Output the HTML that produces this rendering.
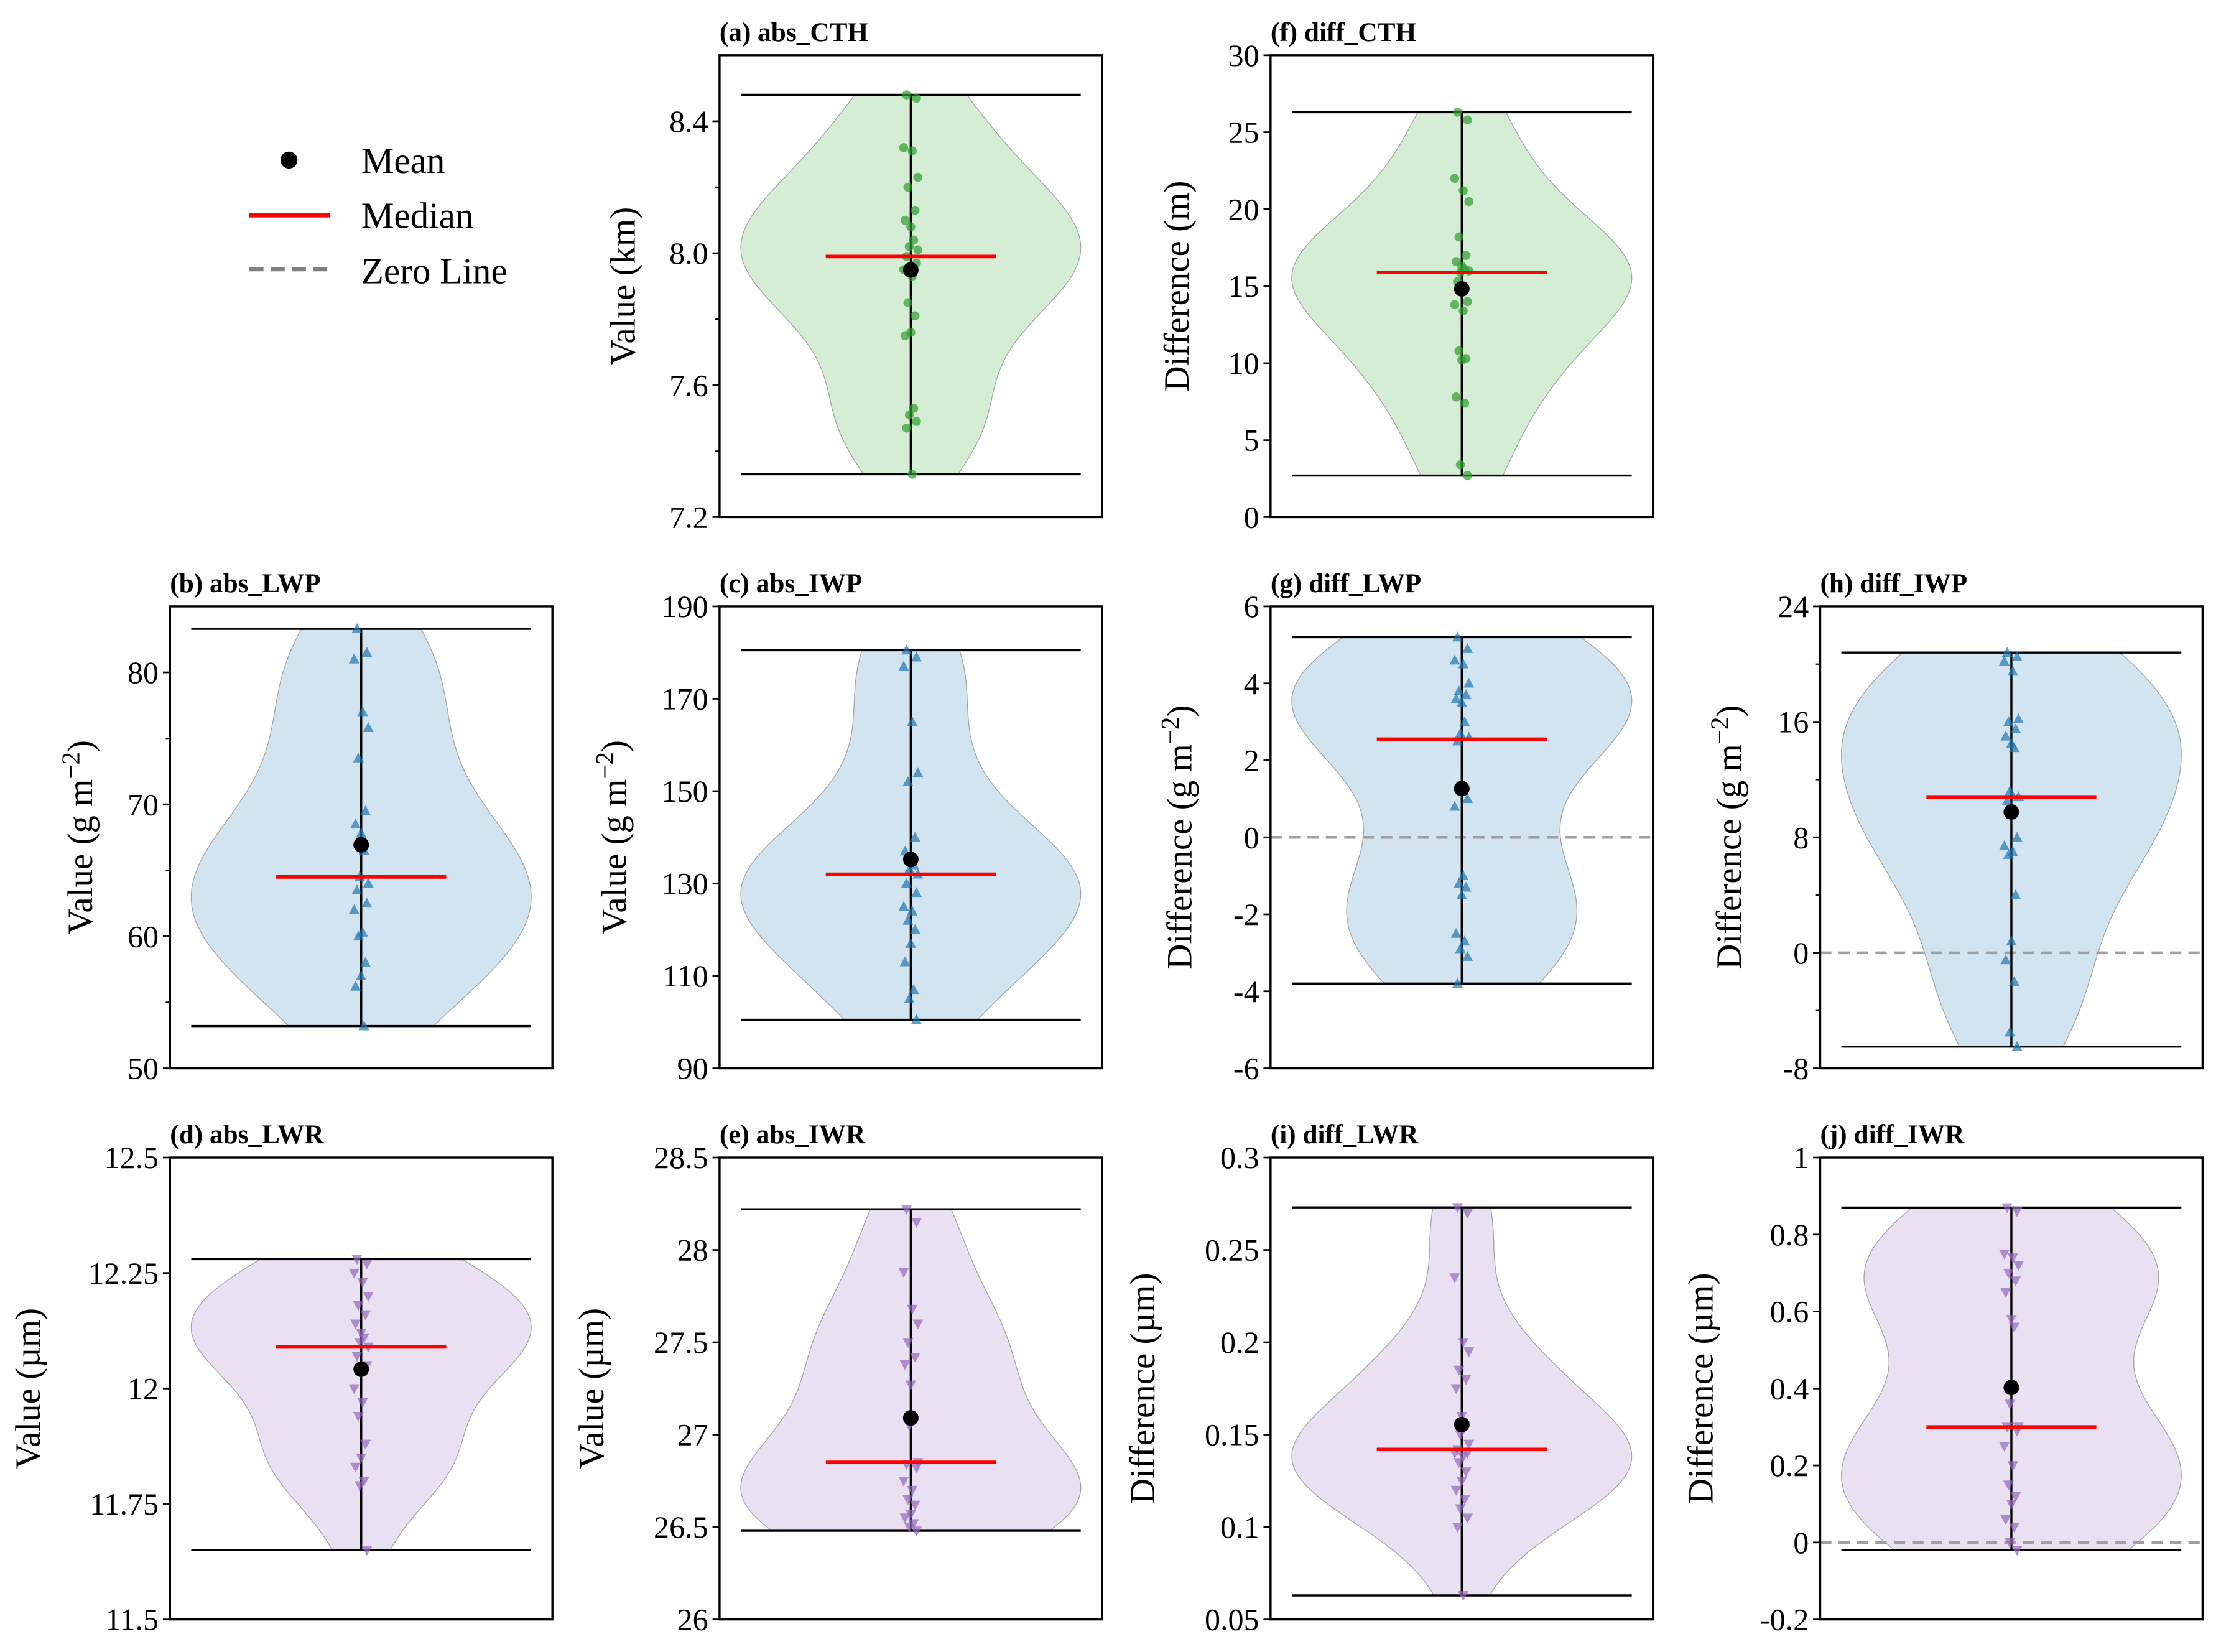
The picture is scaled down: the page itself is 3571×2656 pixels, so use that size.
<!DOCTYPE html>
<html><head><meta charset="utf-8"><style>
html,body{margin:0;padding:0;background:#fff}
svg{display:block;font-family:"Liberation Serif",serif}
</style></head><body>
<svg id="fig" width="3571" height="2656" viewBox="0 0 1568 1166" preserveAspectRatio="none" xmlns="http://www.w3.org/2000/svg">
<rect width="1568" height="1166" fill="#fff"/>
<g>
<circle cx="204" cy="113" r="6" fill="#000"/>
<text x="255" y="122" font-size="26">Mean</text>
<line x1="176" y1="152" x2="233" y2="152" stroke="#f00" stroke-width="3"/>
<text x="255" y="161" font-size="26">Median</text>
<line x1="176" y1="190" x2="233" y2="190" stroke="#808080" stroke-width="3" stroke-dasharray="10,5"/>
<text x="255" y="200" font-size="26">Zero Line</text>
</g>
</svg>
<script>
// ---- data ----
const absCTH=[8.48,8.47,8.32,8.31,8.23,8.20,8.13,8.10,8.08,8.04,8.02,8.01,7.99,7.97,7.95,7.93,7.85,7.81,7.76,7.75,7.53,7.51,7.49,7.47,7.33];
const diffCTH=[26.3,25.8,22,21.2,20.5,18.2,17.0,16.6,16.3,16.1,15.9,16.0,15.3,14.0,13.8,13.4,10.8,10.3,10.2,7.8,7.4,3.4,2.7];
const absLWP=[83.3,81.5,81,77,75.8,73.5,69.5,68.5,67.8,66.5,64.5,64,63.5,62.5,62,60.3,60,58,57,56.2,53.2];
const absIWP=[180.5,179,177,165,154,152,140,137,135,134,133,132,130,128,125,124,122,120,117,113,107,105,100.5];
const diffLWP=[5.2,4.9,4.6,4.5,4.0,3.8,3.7,3.6,3.5,3.0,2.7,2.6,2.5,1.0,0.8,-1.0,-1.2,-1.3,-1.5,-2.5,-2.7,-2.9,-3.1,-3.8];
const diffIWP=[20.8,20.5,20.2,19.5,16.2,16,15.5,15,14.5,14.2,11.2,10.8,10.5,8,7.4,7.0,6.8,4,0.8,-0.5,-2,-5.5,-6.5];
const absLWR=[12.28,12.27,12.25,12.23,12.2,12.18,12.16,12.14,12.12,12.11,12.10,12.09,12.07,12.05,12.0,11.97,11.94,11.88,11.85,11.83,11.80,11.79,11.65];
const absIWR=[28.22,28.15,27.88,27.68,27.6,27.5,27.42,27.38,27.27,27.08,27.05,26.85,26.84,26.82,26.75,26.70,26.65,26.62,26.57,26.55,26.52,26.5,26.48];
const diffLWR=[0.273,0.27,0.235,0.2,0.195,0.185,0.18,0.175,0.16,0.155,0.15,0.145,0.142,0.14,0.14,0.138,0.135,0.13,0.125,0.12,0.115,0.11,0.105,0.1,0.063];
const diffIWR=[0.87,0.86,0.75,0.74,0.72,0.70,0.68,0.65,0.58,0.56,0.36,0.30,0.30,0.29,0.25,0.20,0.15,0.12,0.10,0.06,0.04,0.0,-0.02];
const tickA=["7.2","7.6","8.0","8.4"];
const tickF=["0","5","10","15","20","25","30"];
const tickB=["50","60","70","80"];
const tickC=["90","110","130","150","170","190"];
const tickG=["-6","-4","-2","0","2","4","6"];
const tickH=["-8","0","8","16","24"];
const tickD=["11.5","11.75","12","12.25","12.5"];
const tickE=["26","26.5","27","27.5","28","28.5"];
const tickI=["0.05","0.1","0.15","0.2","0.25","0.3"];
const tickJ=["-0.2","0","0.2","0.4","0.6","0.8","1"];

const NS="http://www.w3.org/2000/svg";
const svg=document.getElementById('fig');
function mk(tag,attrs,parent){const e=document.createElementNS(NS,tag);for(const k in attrs)e.setAttribute(k,attrs[k]);(parent||svg).appendChild(e);return e;}
const COL={g:["#2ca02c","#d5ecd5"],b:["#1f77b4","#d2e4f0"],p:["#9467bd","#e9e1f2"]};
const jit=[-3,4,-5,1,5,-2,3,-4,0,2,-1,5,-3,4,-5,1,-2,3,0,-4,2,-1,4,-3,1];
function panel(o){
  const g=mk('g',{});
  
  
  const L=o.x,T=o.y,W=270,H=326,cx=L+W/2;
  const ymin=parseFloat(o.ticks[0]),ymax=(o.top!==undefined)?o.top:parseFloat(o.ticks[o.ticks.length-1]);
  const Y=v=>T+H-(v-ymin)/(ymax-ymin)*H;
  const d=o.data,n=d.length;
  const mean=d.reduce((a,b)=>a+b,0)/n;
  const s=[...d].sort((a,b)=>a-b);
  const med=n%2?s[(n-1)/2]:(s[n/2-1]+s[n/2])/2;
  const sd=Math.sqrt(d.reduce((a,b)=>a+(b-mean)**2,0)/(n-1));
  const bw=sd*Math.pow(n,-0.2);
  const mn=s[0],mx=s[n-1];
  const pts=[];let peak=0;
  for(let i=0;i<=100;i++){const v=mn+(mx-mn)*i/100;let k=0;for(const x of d)k+=Math.exp(-0.5*((v-x)/bw)**2);pts.push([v,k]);peak=Math.max(peak,k);}
  const hw=120;
  let p="M"+pts.map(q=>(cx+q[1]/peak*hw).toFixed(1)+","+Y(q[0]).toFixed(1)).join("L");
  p+="L"+pts.slice().reverse().map(q=>(cx-q[1]/peak*hw).toFixed(1)+","+Y(q[0]).toFixed(1)).join("L")+"Z";
  const vio=mk('path',{d:p,fill:COL[o.c][1],stroke:"#a0a8a0","stroke-width":0.6},g);
  
  
  if(o.zero){const z=mk('line',{x1:L,x2:L+W,y1:Y(0),y2:Y(0),stroke:"#a0a0a0","stroke-width":2,"stroke-dasharray":"8,5"},g);
    }
  const ln=(a,b,c,e,col,w,nm)=>{const l=mk('line',{x1:a,y1:b,x2:c,y2:e,stroke:col,"stroke-width":w},g);};
  ln(cx,Y(mn),cx,Y(mx),"#000",1.5,'whisker-line');
  ln(cx-120,Y(mx),cx+120,Y(mx),"#000",1.5,'max-cap');
  ln(cx-120,Y(mn),cx+120,Y(mn),"#000",1.5,'min-cap');
  d.forEach((v,i)=>{
    const x=cx+jit[i%jit.length],y=Y(v);let m;
    if(o.c==='g')m=mk('circle',{cx:x,cy:y,r:3.2},g);
    else if(o.c==='b')m=mk('path',{d:`M${x},${y-4}L${x+3.8},${y+3}L${x-3.8},${y+3}Z`},g);
    else m=mk('path',{d:`M${x},${y+4}L${x+3.8},${y-3}L${x-3.8},${y-3}Z`},g);
    m.setAttribute('fill',COL[o.c][0]);m.setAttribute('fill-opacity','0.7');
    
    
  });
  ln(cx-60,Y(med),cx+60,Y(med),"#f00",2.5,'median-line');
  const mc=mk('circle',{cx:cx,cy:Y(mean),r:5.5,fill:"#000"},g);
  
  const fr=mk('rect',{x:L,y:T,width:W,height:H,fill:"none",stroke:"#000","stroke-width":1.5},g);
  
  o.ticks.forEach((t,i)=>{
    const y=Y(parseFloat(t));
    ln(L-5,y,L,y,"#000",1.2,'y-tick');
    const tx=mk('text',{x:L-8,y:y+7.5,"font-size":22,"text-anchor":"end"},g);tx.textContent=t;
    
    if(o.minor){const nx=(i<o.ticks.length-1)?parseFloat(o.ticks[i+1]):ymax+1e9;const mid=(parseFloat(t)+nx)/2;if(mid<=ymax){const y2=Y(mid);ln(L-3,y2,L,y2,"#000",1,'y-minor-tick');}}
  });
  const tt=mk('text',{x:L,y:T-10,"font-size":19,"font-weight":"bold"},g);tt.textContent=o.title;
  
  const yl=mk('text',{x:0,y:0,"font-size":25,"text-anchor":"middle",transform:`translate(${L-o.lab},${T+H/2}) rotate(-90)`},g);
  
  if(o.sup){yl.appendChild(document.createTextNode(o.ylab+" (g m"));const ts=mk('tspan',{dy:-9,"font-size":18},yl);ts.textContent="−2";const t2=mk('tspan',{dy:9},yl);t2.textContent=")";}
  else yl.textContent=o.ylab;
}
panel({name:'panel-a-abs-cth',x:508,y:39,data:absCTH,ticks:tickA,top:8.6,c:'g',title:'(a) abs_CTH',ylab:'Value (km)',lab:60,minor:true});
panel({name:'panel-f-diff-cth',x:897,y:39,data:diffCTH,ticks:tickF,c:'g',title:'(f) diff_CTH',ylab:'Difference (m)',lab:58});
panel({name:'panel-b-abs-lwp',x:120,y:428,data:absLWP,ticks:tickB,top:85,c:'b',title:'(b) abs_LWP',ylab:'Value',sup:true,lab:55,minor:true});
panel({name:'panel-c-abs-iwp',x:508,y:428,data:absIWP,ticks:tickC,c:'b',title:'(c) abs_IWP',ylab:'Value',sup:true,lab:66});
panel({name:'panel-g-diff-lwp',x:897,y:428,data:diffLWP,ticks:tickG,c:'b',title:'(g) diff_LWP',ylab:'Difference',sup:true,lab:56,zero:true});
panel({name:'panel-h-diff-iwp',x:1285,y:428,data:diffIWP,ticks:tickH,c:'b',title:'(h) diff_IWP',ylab:'Difference',sup:true,lab:56,zero:true,minor:true});
panel({name:'panel-d-abs-lwr',x:120,y:817,data:absLWR,ticks:tickD,c:'p',title:'(d) abs_LWR',ylab:'Value (µm)',lab:92});
panel({name:'panel-e-abs-iwr',x:508,y:817,data:absIWR,ticks:tickE,c:'p',title:'(e) abs_IWR',ylab:'Value (µm)',lab:82});
panel({name:'panel-i-diff-lwr',x:897,y:817,data:diffLWR,ticks:tickI,c:'p',title:'(i) diff_LWR',ylab:'Difference (µm)',lab:82});
panel({name:'panel-j-diff-iwr',x:1285,y:817,data:diffIWR,ticks:tickJ,c:'p',title:'(j) diff_IWR',ylab:'Difference (µm)',lab:76,zero:true});
</script>
</body></html>
